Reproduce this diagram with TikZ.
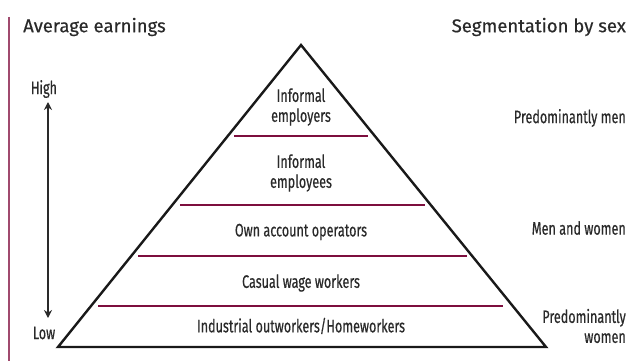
\documentclass[tikz,border=0pt]{standalone}
\usepackage{fontspec}
\setmainfont{Fira Sans}
\newfontfamily\titlefont[FakeBold=0.4]{Fira Sans}
\newfontfamily\condfont[FakeStretch=0.70,FakeBold=0.5]{Fira Sans}
\usetikzlibrary{arrows.meta}
\definecolor{txt}{HTML}{2A2A2A}
\definecolor{maroon}{HTML}{7D0E3E}
\definecolor{rule}{HTML}{A04A6E}
\tikzset{
  title/.style={font=\titlefont\fontsize{18.5}{22}\selectfont, text=txt, inner sep=0pt},
  lbl/.style={font=\condfont\fontsize{18}{20}\selectfont, text=txt, inner sep=0pt, align=center},
  divider/.style={draw=maroon, line width=2.8pt},
  pyr/.style={draw=black!90, line width=2.4pt, line join=miter},
}
\begin{document}
\begin{tikzpicture}[x=1pt,y=-1pt]
\useasboundingbox (0,0) rectangle (634,361);
% left rule
\coordinate (rtop) at (9,17);
\coordinate (rbot) at (9,361);
\draw[rule, line width=1.8pt] (rtop) -- (rbot);
% titles
\node[title, anchor=west] (avg) at (23,27) {Average earnings};
\node[title, anchor=east] (seg) at (626,27) {Segmentation by sex};
% earnings arrow
\node[lbl] (high) at (44,89) {High};
\node[lbl] (low) at (44,333) {Low};
\coordinate (atop) at (48,102);
\coordinate (abot) at (48,318);
\draw[txt, line width=2.2pt, {Stealth[length=8pt,width=8pt]}-{Stealth[length=8pt,width=8pt]}] (atop) -- (abot);
% pyramid
\coordinate (apex) at (301,45);
\coordinate (bl) at (58,347);
\coordinate (br) at (546,347);
\draw[pyr] (bl) -- (apex) -- (br) -- cycle;
% dividers
\coordinate (d1l) at (234,136); \coordinate (d1r) at (368,136);
\coordinate (d2l) at (180,205); \coordinate (d2r) at (425,205);
\coordinate (d3l) at (138,256); \coordinate (d3r) at (467,256);
\coordinate (d4l) at (98,306);  \coordinate (d4r) at (503,306);
\draw[divider] (d1l) -- (d1r);
\draw[divider] (d2l) -- (d2r);
\draw[divider] (d3l) -- (d3r);
\draw[divider] (d4l) -- (d4r);
% pyramid labels
\node[lbl] (emp) at (301,107) {Informal\\employers};
\node[lbl] (empl) at (301,173) {Informal\\employees};
\node[lbl] (own) at (301,232) {Own account operators};
\node[lbl] (cas) at (301,283) {Casual wage workers};
\node[lbl] (ind) at (301,326) {Industrial outworkers/Homeworkers};
% segmentation labels
\node[lbl, anchor=east, align=right] (men) at (626,118) {Predominantly men};
\node[lbl, anchor=east, align=right] (mw) at (626,228) {Men and women};
\node[lbl, anchor=east, align=right] (wom) at (626,326) {Predominantly\\women};
\end{tikzpicture}
\end{document}
